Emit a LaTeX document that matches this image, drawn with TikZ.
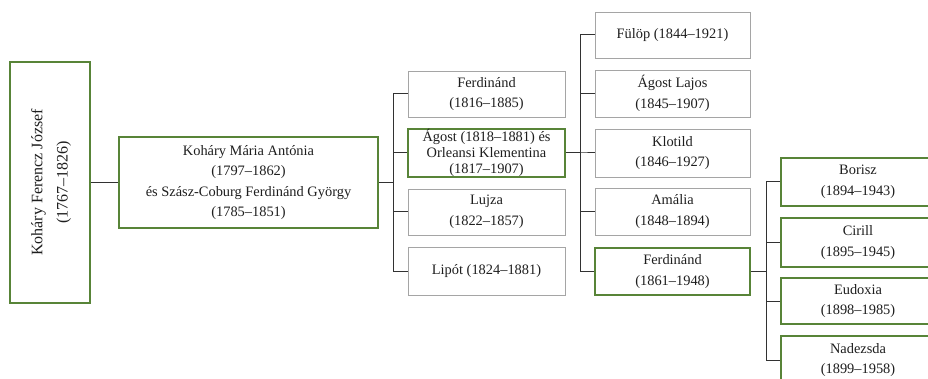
\documentclass[tikz,border=0pt]{standalone}
\usepackage{fontspec}
\setmainfont{Liberation Serif}
\definecolor{boxgreen}{RGB}{88,132,56}
\definecolor{boxgray}{RGB}{165,165,165}
\definecolor{linegray}{RGB}{50,50,50}
\definecolor{txt}{RGB}{30,30,30}
\tikzset{
  person/.style={draw=boxgray, line width=0.8pt, fill=white, align=center, inner sep=0pt,
    text=txt, font=\fontsize{14.4}{20.5}\selectfont},
  greenbox/.style={person, draw=boxgreen, line width=2.8pt},
  conn/.style={draw=linegray, line width=1pt},
}
\begin{document}
\begin{tikzpicture}[x=1pt,y=-1pt]
\useasboundingbox (0,0) rectangle (928,379);
\clip (0,0) rectangle (928,379);
% root
\node[greenbox, minimum width=80, minimum height=241] (root) at (50,182.5)
  {\rotatebox{90}{\fontsize{16}{25}\selectfont\begin{tabular}{@{}c@{}}Koháry Ferencz József\\(1767–1826)\end{tabular}}};
% generation 2
\node[greenbox, minimum width=259, minimum height=91] (g2) at (248.5,182.5)
  {Koháry Mária Antónia\\(1797–1862)\\és Szász-Coburg Ferdinánd György\\(1785–1851)};
% generation 3
\node[person, minimum width=157, minimum height=46] (c1) at (486.5,94) {Ferdinánd\\(1816–1885)};
\node[greenbox, minimum width=157, minimum height=48, font=\fontsize{14.4}{16.2}\selectfont] (c2) at (486.5,153) {Ágost (1818–1881) és\\Orleansi Klementina\\(1817–1907)};
\node[person, minimum width=157, minimum height=46] (c3) at (486.5,212) {Lujza\\(1822–1857)};
\node[person, minimum width=157, minimum height=48] (c4) at (486.5,271) {Lipót (1824–1881)};
% generation 4
\node[person, minimum width=155, minimum height=46] (d1) at (672.5,35) {Fülöp (1844–1921)};
\node[person, minimum width=155, minimum height=47] (d2) at (672.5,93.5) {Ágost Lajos\\(1845–1907)};
\node[person, minimum width=155, minimum height=48] (d3) at (672.5,153) {Klotild\\(1846–1927)};
\node[person, minimum width=155, minimum height=47] (d4) at (672.5,211.5) {Amália\\(1848–1894)};
\node[greenbox, minimum width=155, minimum height=47] (d5) at (672.5,271.5) {Ferdinánd\\(1861–1948)};
% generation 5
\node[greenbox, minimum width=154, minimum height=48] (e1) at (858,182) {Borisz\\(1894–1943)};
\node[greenbox, minimum width=154, minimum height=49] (e2) at (858,242.5) {Cirill\\(1895–1945)};
\node[greenbox, minimum width=154, minimum height=46] (e3) at (858,301) {Eudoxia\\(1898–1985)};
\node[greenbox, minimum width=154, minimum height=48] (e4) at (858,360) {Nadezsda\\(1899–1958)};
% connectors
\draw[conn] (root.east) -- (g2.west);
\foreach \c in {c1,c2,c3,c4} \draw[conn] (g2.east) -- (393,182.5) |- (\c.west);
\foreach \d in {d1,d2,d3,d4,d5} \draw[conn] (c2.east) -- (580,153) |- (\d.west);
\foreach \e in {e1,e2,e3,e4} \draw[conn] (d5.east) -- (766,271.5) |- (\e.west);
\end{tikzpicture}
\end{document}
